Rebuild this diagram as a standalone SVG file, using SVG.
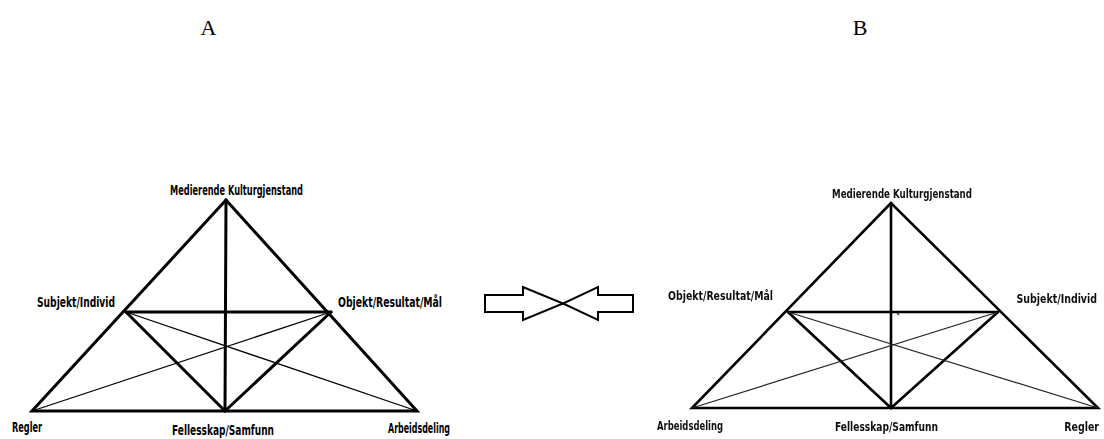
<svg xmlns="http://www.w3.org/2000/svg" width="1104" height="439" viewBox="0 0 1104 439">
  <style>
    .title { font-family: "Liberation Serif", "Times New Roman", serif; font-size: 22px; fill: #000; text-anchor: middle; }
    .lbl { font-family: "DejaVu Sans Condensed", "DejaVu Sans", sans-serif; font-stretch: condensed; font-weight: bold; font-size: 14px; fill: #000; }
    .lblb { font-family: "DejaVu Sans Condensed", "DejaVu Sans", sans-serif; font-stretch: condensed; font-weight: bold; font-size: 13px; fill: #111; }
    .lbls { font-family: "DejaVu Sans Condensed", "DejaVu Sans", sans-serif; font-stretch: condensed; font-weight: bold; font-size: 10.5px; fill: #111; text-anchor: end; }
    .thick { stroke: #000; stroke-width: 3; fill: none; stroke-linejoin: miter; stroke-linecap: round; }
    .thin { stroke: #000; stroke-width: 1.3; fill: none; }
    .thickb { stroke: #000; stroke-width: 2.6; fill: none; stroke-linecap: round; }
    .thinb { stroke: #222; stroke-width: 1.2; fill: none; }
    .arrow { fill: #fff; stroke: #000; stroke-width: 2; stroke-linejoin: miter; }
  </style>
  <defs>
    <filter id="soft" x="-10%" y="-10%" width="120%" height="120%">
      <feGaussianBlur stdDeviation="0.45"/>
    </filter>
  </defs>
  <rect width="1104" height="439" fill="#fff"/>

  <text id="title-a" class="title" x="208.5" y="35">A</text>
  <text id="title-b" class="title" x="860" y="35">B</text>

  <!-- Model A -->
  <g id="model-a">
    <g id="a-connectors">
      <polygon class="thick" points="226,200 32,411 417,411"/>
      <line class="thick" x1="226" y1="200" x2="225" y2="411"/>
      <line class="thick" x1="126" y1="312" x2="331" y2="312"/>
      <line class="thick" x1="126" y1="312" x2="225" y2="411"/>
      <line class="thick" x1="331" y1="312" x2="225" y2="411"/>
      <line class="thin" x1="126" y1="312" x2="417" y2="411"/>
      <line class="thin" x1="331" y1="312" x2="32" y2="411"/>
    </g>
    <g id="a-mediating-artifact"><text class="lbl" x="170" y="195" textLength="133" lengthAdjust="spacingAndGlyphs">Medierende Kulturgjenstand</text></g>
    <g id="a-subject"><text class="lbl" x="37" y="307" textLength="78" lengthAdjust="spacingAndGlyphs">Subjekt/Individ</text></g>
    <g id="a-object"><text class="lbl" x="338" y="307" textLength="104" lengthAdjust="spacingAndGlyphs">Objekt/Resultat/Mål</text></g>
    <g id="a-rules"><text class="lbl" x="12" y="432" textLength="30" lengthAdjust="spacingAndGlyphs">Regler</text></g>
    <g id="a-community"><text class="lbl" x="172" y="435" textLength="102" lengthAdjust="spacingAndGlyphs">Fellesskap/Samfunn</text></g>
    <g id="a-division"><text class="lbl" x="388" y="433" textLength="62" lengthAdjust="spacingAndGlyphs">Arbeidsdeling</text></g>
  </g>

  <!-- Exchange arrows -->
  <g id="exchange-arrows">
    <polygon class="arrow" points="485,295 523,295 523,287 563,303.5 523,320 523,312 485,312"/>
    <polygon class="arrow" points="633,295 598,295 598,287 563,303.5 598,320 598,312 633,312"/>
  </g>

  <!-- Model B -->
  <g id="model-b" filter="url(#soft)">
    <g id="b-connectors">
      <polygon class="thickb" points="891,203 692,408 1098,408"/>
      <line class="thickb" x1="891" y1="203" x2="891" y2="408"/>
      <line class="thickb" x1="788" y1="312" x2="998" y2="312"/>
      <line class="thickb" x1="788" y1="312" x2="891" y2="408"/>
      <line class="thickb" x1="998" y1="312" x2="891" y2="408"/>
      <line class="thinb" x1="788" y1="312" x2="1098" y2="408"/>
      <line class="thinb" x1="998" y1="312" x2="692" y2="408"/>
      <line class="thinb" x1="897" y1="313" x2="899" y2="315"/>
    </g>
    <g id="b-mediating-artifact"><text class="lblb" x="832" y="198" textLength="140" lengthAdjust="spacingAndGlyphs">Medierende Kulturgjenstand</text></g>
    <g id="b-object"><text class="lblb" x="668" y="300" textLength="105" lengthAdjust="spacingAndGlyphs">Objekt/Resultat/Mål</text></g>
    <g id="b-subject"><text class="lbls" transform="translate(1097,303) scale(1,1.2)">Subjekt/Individ</text></g>
    <g id="b-division"><text class="lblb" x="657" y="430" textLength="66" lengthAdjust="spacingAndGlyphs">Arbeidsdeling</text></g>
    <g id="b-community"><text class="lblb" x="835" y="431" textLength="103" lengthAdjust="spacingAndGlyphs">Fellesskap/Samfunn</text></g>
    <g id="b-rules"><text class="lbls" transform="translate(1099,431) scale(1,1.2)">Regler</text></g>
  </g>
</svg>
